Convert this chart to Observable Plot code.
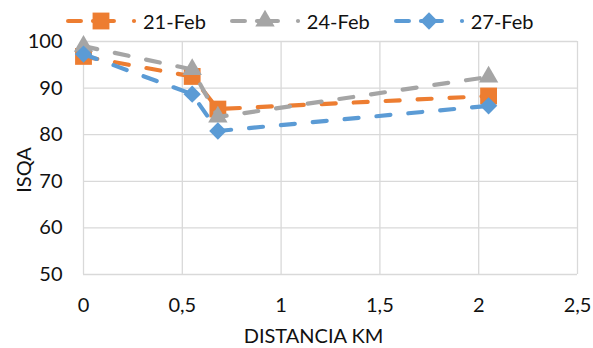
<!DOCTYPE html>
<html><head><meta charset="utf-8">
<script src="https://cdn.jsdelivr.net/npm/d3@7"></script>
<script src="https://cdn.jsdelivr.net/npm/@observablehq/plot@0.6"></script>
<style>
body{margin:0;background:#fff;}
#wrap{position:relative;width:593px;height:348px;font-family:Lato,sans-serif;color:#111;}
#legend{position:absolute;left:66px;top:0;height:42px;display:flex;align-items:center;gap:24px;font-size:20px;}
.item{display:flex;align-items:center;}
.item svg{display:block;}
#ylabel{position:absolute;left:23px;top:170px;transform:translate(-50%,-50%) rotate(-90deg);font-size:20px;white-space:nowrap;line-height:1;}
</style></head><body><div id="wrap"><div id="legend"></div><div id="ylabel"></div></div>
<script>
const distancias = [0, 0.55, 0.68, 2.05];
const series = ["21-Feb", "24-Feb", "27-Feb"];
const isqa21 = [96.8, 92.5, 85.5, 88.3];
const isqa24 = [99.0, 94.0, 83.8, 92.4];
const isqa27 = [97.3, 88.7, 80.8, 86.2];
const colors = ["#ED7D31", "#A5A5A5", "#5B9BD5"];
const symbols = ["square", "triangle", "diamond2"];
const symbolR = [9.5, 7.2, 7.8];
const xTicks = [0, 0.5, 1, 1.5, 2, 2.5];
const yTicks = [50, 60, 70, 80, 90, 100];
const xLabel = "DISTANCIA KM";
const yLabel = "ISQA";

const values = [isqa21, isqa24, isqa27];
const tables = values.map((v, i) => distancias.map((d, j) => ({x: d, y: v[j], s: series[i]})));

const dash = "14,18";
const lw = 4.2;
const marks = [
  Plot.gridX(xTicks, {stroke: "#D9D9D9", strokeOpacity: 1, strokeWidth: 1.3}),
  Plot.gridY(yTicks, {stroke: "#D9D9D9", strokeOpacity: 1, strokeWidth: 1.3}),
  Plot.axisX(xTicks, {tickSize: 0, tickPadding: 23, fontSize: 20, label: null,
    tickFormat: d => String(d).replace(".", ",")}),
  Plot.axisY(yTicks, {tickSize: 0, tickPadding: 21, fontSize: 20, label: null}),
  Plot.text([xLabel], {frameAnchor: "bottom", dx: -17, dy: 62, fontSize: 20, lineAnchor: "middle"})
];
tables.forEach((t, i) => {
  marks.push(Plot.line(t, {x: "x", y: "y", stroke: colors[i], strokeWidth: lw,
    strokeDasharray: dash, strokeLinecap: "round", strokeLinejoin: "round"}));
  marks.push(Plot.dot(t, {x: "x", y: "y", symbol: () => symbols[i], r: symbolR[i], fill: colors[i], stroke: "none"}));
});

const chart = Plot.plot({
  width: 593, height: 348,
  marginTop: 41, marginBottom: 74, marginLeft: 83, marginRight: 16,
  x: {domain: [0, 2.5]},
  y: {domain: [50, 100]},
  style: {fontFamily: "Lato, sans-serif", color: "#111", background: "#fff", overflow: "visible"},
  marks
});
document.getElementById("wrap").appendChild(chart);
document.getElementById("ylabel").textContent = yLabel;

// legend
const d3sym = {square: d3.symbolSquare, triangle: d3.symbolTriangle, diamond2: d3.symbolDiamond2};
const legend = d3.select("#legend");
series.forEach((name, i) => {
  const it = legend.append("div").attr("class", "item");
  const svg = it.append("svg").attr("width", 77).attr("height", 24);
  const g = svg.append("g").attr("stroke", colors[i]).attr("stroke-width", lw).attr("stroke-linecap", "round");
  g.append("line").attr("x1", 2.1).attr("x2", 14.9).attr("y1", 12).attr("y2", 12);
  g.append("line").attr("x1", 27).attr("x2", 47.9).attr("y1", 12).attr("y2", 12);
  g.append("line").attr("x1", 68).attr("x2", 68).attr("y1", 12).attr("y2", 12);
  svg.append("path")
    .attr("d", d3.symbol(d3sym[symbols[i]], Math.PI * symbolR[i] * symbolR[i])())
    .attr("transform", "translate(35,12)")
    .attr("fill", colors[i]);
  it.append("span").text(name);
});
</script>
</body></html>
